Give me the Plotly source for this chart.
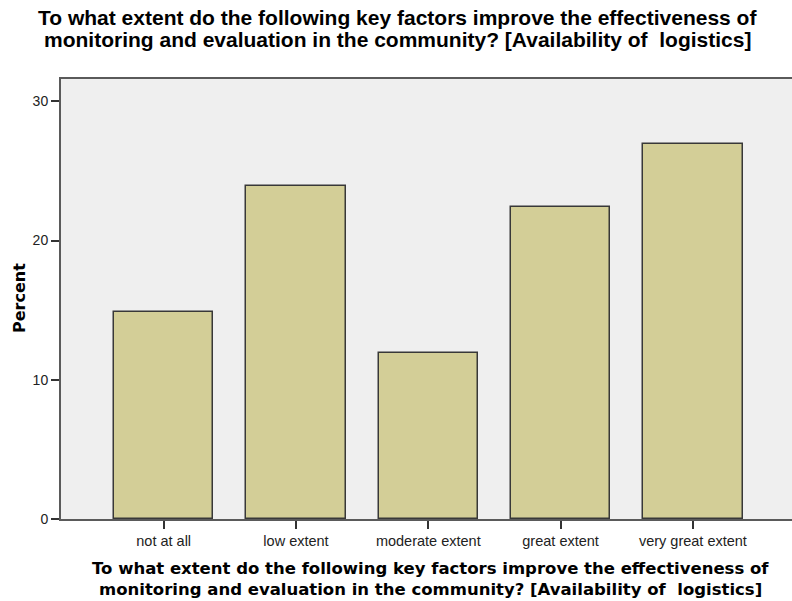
import plotly.graph_objects as go

categories = ["not at all", "low extent", "moderate extent", "great extent", "very great extent"]
percent = [14.9, 23.9, 11.9, 22.4, 26.9]
y_ticks = [0, 10, 20, 30]

title_lines = ["To what extent do the following key factors improve the effectiveness of",
               "monitoring and evaluation in the community? [Availability of  logistics]"]
y_title = "Percent"

W, H = 792, 601
left, right, top, bottom = 61, 792, 79, 519  # pixel coordinates of the plot frame

def px(X):
    return (X - left) / (right - left)

def py(Y):
    return (bottom - Y) / (bottom - top)

fig = go.Figure()
fig.add_trace(go.Bar(
    x=list(range(len(categories))),
    y=percent,
    width=0.75,
    marker=dict(color="#D3CE97", line=dict(color="#383838", width=1.5)),
    hoverinfo="skip",
))

annotations = []
# main title (centered on the page)
for line, yc in zip(title_lines, [17, 39]):
    annotations.append(dict(
        text="<b>" + line + "</b>", xref="paper", yref="paper",
        x=px(W / 2 + 1.5), y=py(yc), xanchor="center", yanchor="middle",
        showarrow=False,
        font=dict(family="Liberation Sans, Arial", size=21, color="#000000"),
    ))
# x axis title (centered on the plot)
for line, yc in zip(title_lines, [568.5, 589]):
    annotations.append(dict(
        text="<b>" + line + "</b>", xref="paper", yref="paper",
        x=px(430), y=py(yc), xanchor="center", yanchor="middle",
        showarrow=False,
        font=dict(family="DejaVu Sans", size=16.5, color="#000000"),
    ))
# y axis title
annotations.append(dict(
    text="<b>" + y_title + "</b>", xref="paper", yref="paper",
    x=px(19), y=py(298), xanchor="center", yanchor="middle", textangle=-90,
    showarrow=False,
    font=dict(family="DejaVu Sans", size=16, color="#000000"),
))

fig.update_layout(
    width=W, height=H,
    margin=dict(l=left, r=W - right, t=top, b=H - bottom, pad=0),
    paper_bgcolor="white",
    plot_bgcolor="#EFEFEF",
    showlegend=False,
    bargap=0,
    annotations=annotations,
    xaxis=dict(
        range=[-0.776, 4.749],
        tickmode="array",
        tickvals=list(range(len(categories))),
        ticktext=categories,
        ticks="outside", ticklen=8, tickwidth=1.5, tickcolor="#333333",
        showline=True, linecolor="#5a5a5a", linewidth=2, mirror=True,
        showgrid=False, zeroline=False,
        tickfont=dict(family="Liberation Sans, Arial", size=14.5, color="#222222"),
    ),
    yaxis=dict(
        range=[0, 31.6],
        tickmode="array",
        tickvals=y_ticks,
        ticks="outside", ticklen=8, tickwidth=1.5, tickcolor="#333333",
        showline=True, linecolor="#5a5a5a", linewidth=2, mirror=False,
        showgrid=False, zeroline=False,
        tickfont=dict(family="Liberation Sans, Arial", size=14, color="#222222"),
    ),
)

fig.write_html(
    "out.html",
    config={"displayModeBar": False},
    post_script="document.body.style.margin='0';document.body.style.overflow='hidden';",
)
